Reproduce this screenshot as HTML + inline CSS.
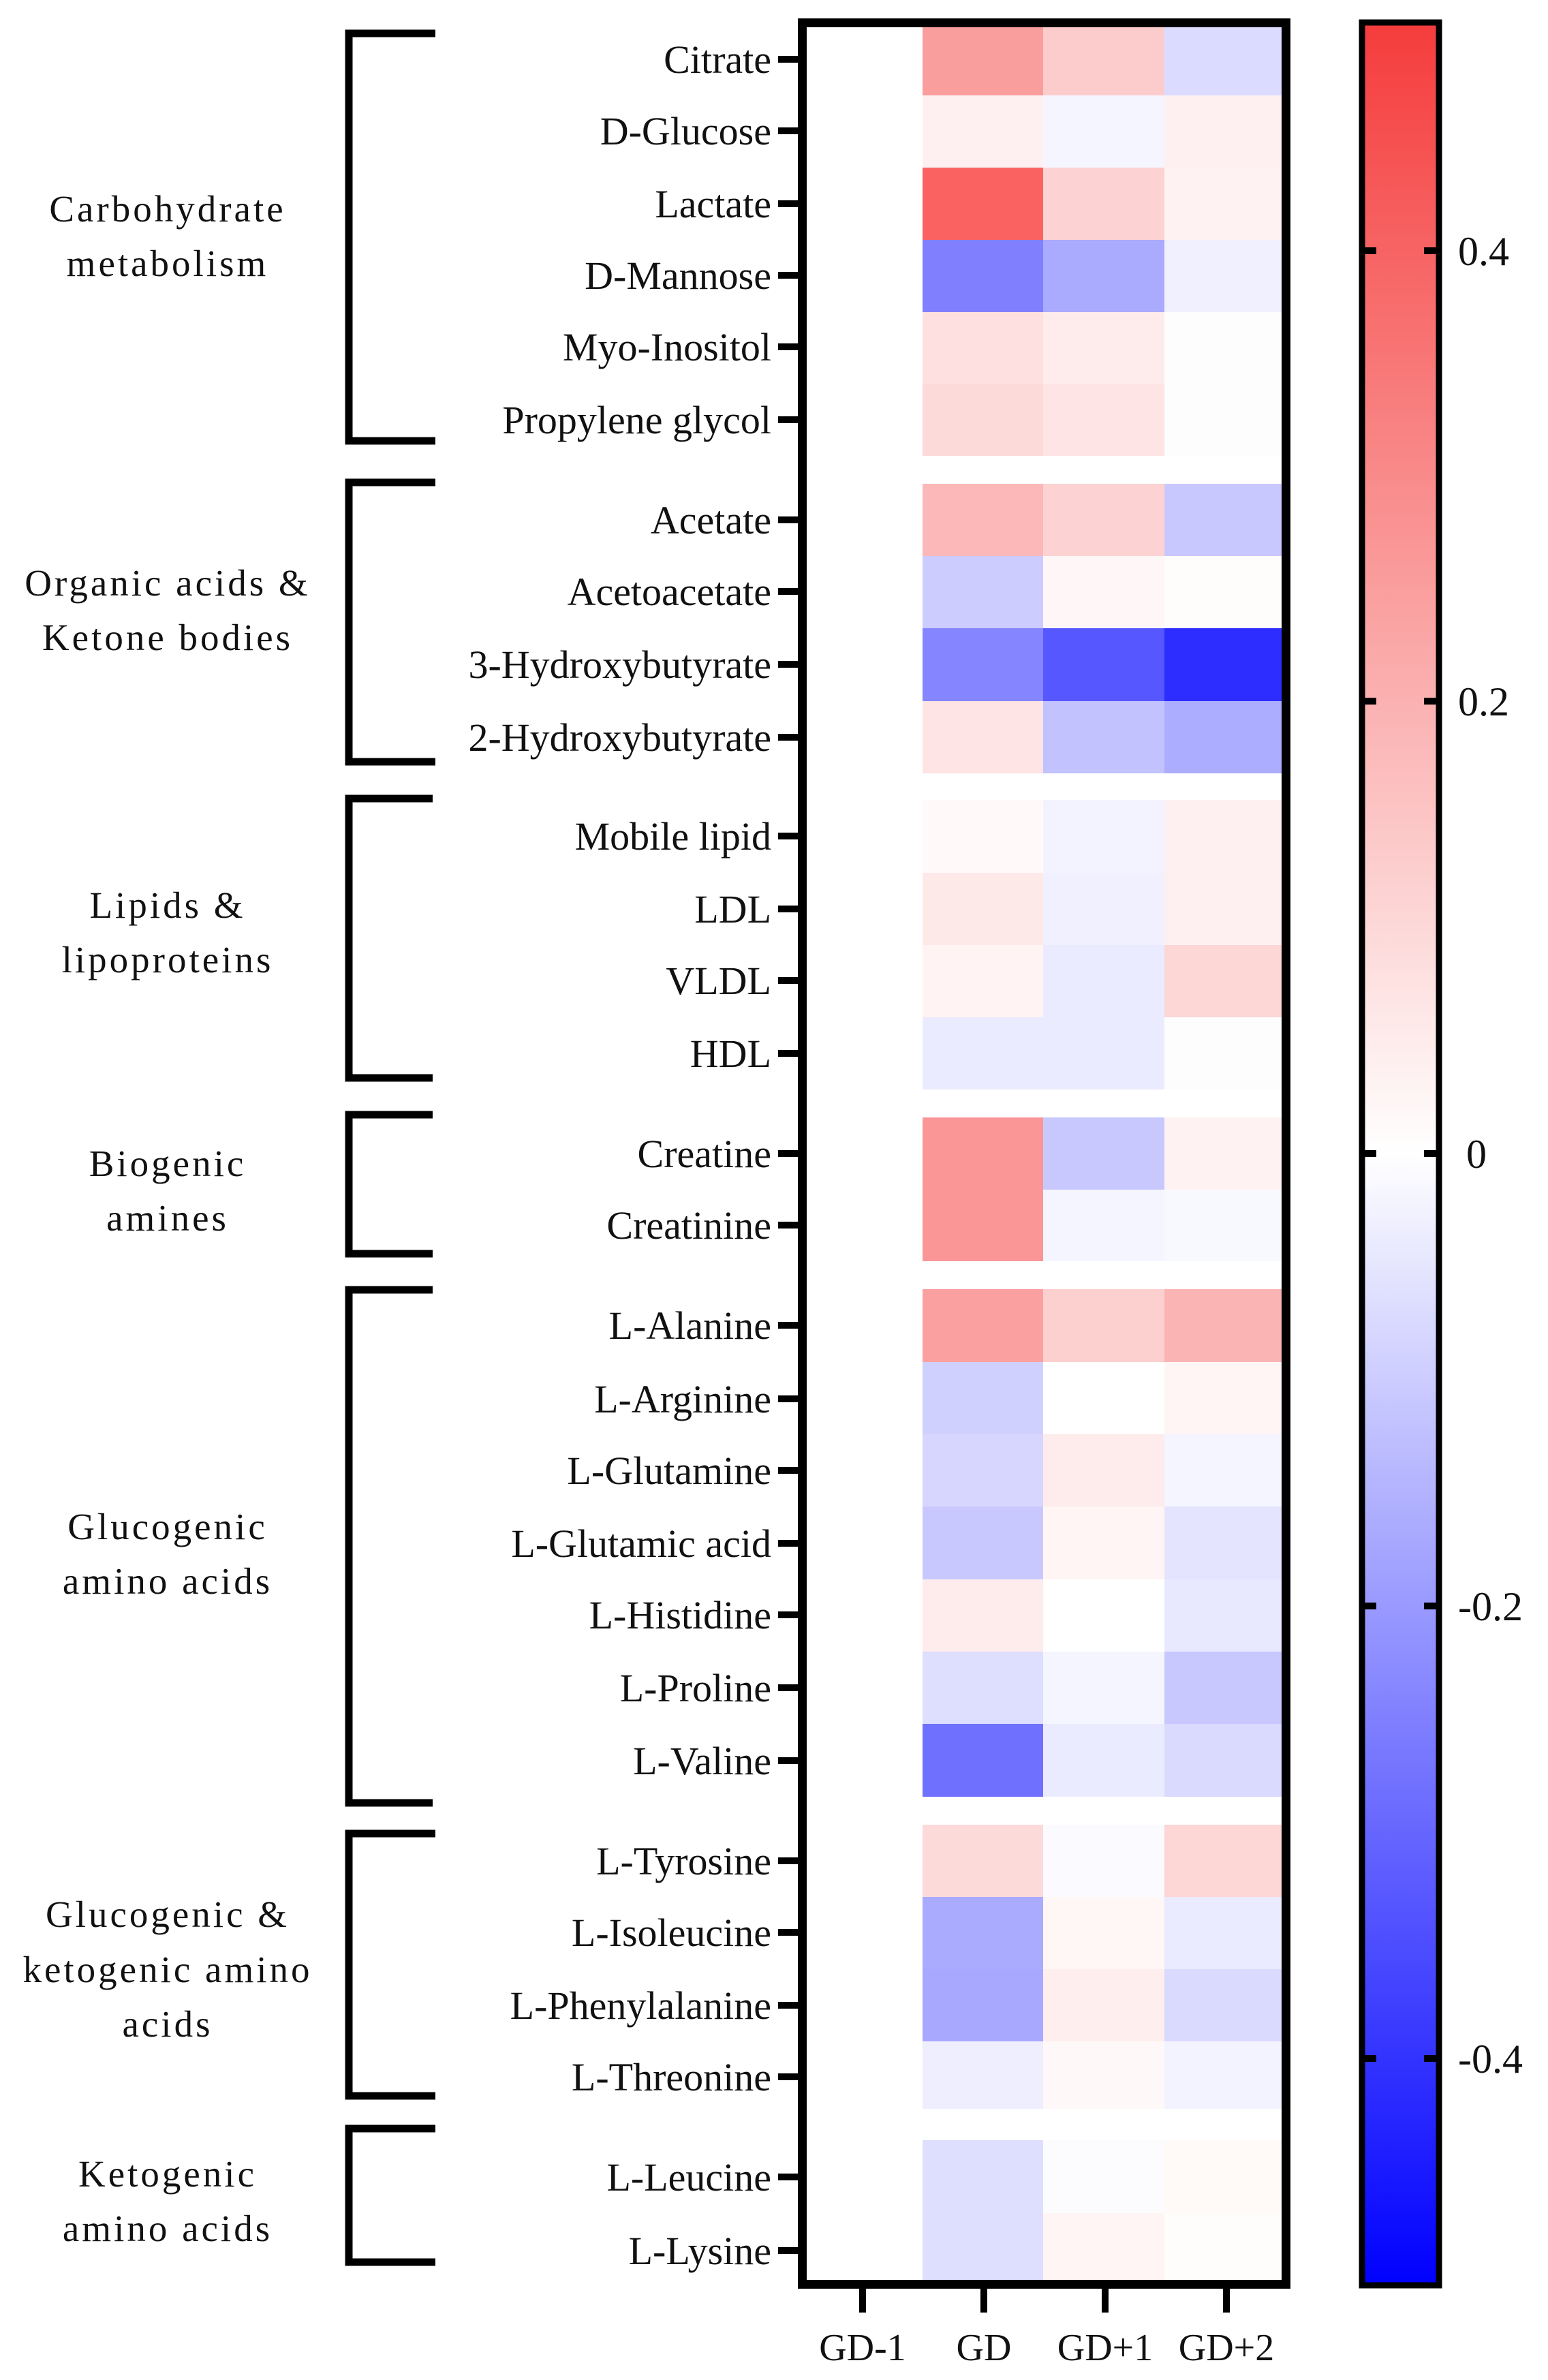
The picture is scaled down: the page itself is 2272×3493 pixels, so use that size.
<!DOCTYPE html>
<html><head><meta charset="utf-8"><style>html,body{margin:0;padding:0;background:#fff}svg{display:block}</style></head>
<body>
<svg xmlns="http://www.w3.org/2000/svg" width="2272" height="3493" viewBox="0 0 2272 3493">
<defs>
<linearGradient id="cb" x1="0" y1="0" x2="0" y2="1">
<stop offset="0" stop-color="rgb(245,60,60)"/>
<stop offset="0.5" stop-color="#ffffff"/>
<stop offset="1" stop-color="rgb(0,0,255)"/>
</linearGradient>
</defs>
<rect width="2272" height="3493" fill="#fff"/>
<g shape-rendering="crispEdges">
<rect x="1354" y="40" width="177" height="100" fill="rgb(250,157,157)"/><rect x="1531" y="40" width="178" height="100" fill="rgb(252,204,204)"/><rect x="1709" y="40" width="173" height="100" fill="rgb(219,219,255)"/>
<rect x="1354" y="140" width="177" height="106" fill="rgb(254,240,240)"/><rect x="1531" y="140" width="178" height="106" fill="rgb(245,245,255)"/><rect x="1709" y="140" width="173" height="106" fill="rgb(254,240,240)"/>
<rect x="1354" y="246" width="177" height="106" fill="rgb(250,98,98)"/><rect x="1531" y="246" width="178" height="106" fill="rgb(253,210,210)"/><rect x="1709" y="246" width="173" height="106" fill="rgb(254,242,242)"/>
<rect x="1354" y="352" width="177" height="106" fill="rgb(128,128,255)"/><rect x="1531" y="352" width="178" height="106" fill="rgb(170,170,255)"/><rect x="1709" y="352" width="173" height="106" fill="rgb(240,240,255)"/>
<rect x="1354" y="458" width="177" height="106" fill="rgb(254,224,224)"/><rect x="1531" y="458" width="178" height="106" fill="rgb(254,236,236)"/><rect x="1709" y="458" width="173" height="106" fill="rgb(253,253,253)"/>
<rect x="1354" y="564" width="177" height="105" fill="rgb(253,218,218)"/><rect x="1531" y="564" width="178" height="105" fill="rgb(254,228,228)"/><rect x="1709" y="564" width="173" height="105" fill="rgb(253,253,253)"/>
<rect x="1354" y="710" width="177" height="106" fill="rgb(252,184,184)"/><rect x="1531" y="710" width="178" height="106" fill="rgb(253,210,210)"/><rect x="1709" y="710" width="173" height="106" fill="rgb(200,200,255)"/>
<rect x="1354" y="816" width="177" height="106" fill="rgb(204,204,255)"/><rect x="1531" y="816" width="178" height="106" fill="rgb(255,247,247)"/><rect x="1709" y="816" width="173" height="106" fill="rgb(255,252,252)"/>
<rect x="1354" y="922" width="177" height="107" fill="rgb(133,133,255)"/><rect x="1531" y="922" width="178" height="107" fill="rgb(87,87,255)"/><rect x="1709" y="922" width="173" height="107" fill="rgb(45,45,255)"/>
<rect x="1354" y="1029" width="177" height="106" fill="rgb(254,228,228)"/><rect x="1531" y="1029" width="178" height="106" fill="rgb(194,194,255)"/><rect x="1709" y="1029" width="173" height="106" fill="rgb(173,173,255)"/>
<rect x="1354" y="1174" width="177" height="107" fill="rgb(255,249,249)"/><rect x="1531" y="1174" width="178" height="107" fill="rgb(243,243,255)"/><rect x="1709" y="1174" width="173" height="107" fill="rgb(254,240,240)"/>
<rect x="1354" y="1281" width="177" height="106" fill="rgb(254,233,233)"/><rect x="1531" y="1281" width="178" height="106" fill="rgb(240,240,255)"/><rect x="1709" y="1281" width="173" height="106" fill="rgb(254,240,240)"/>
<rect x="1354" y="1387" width="177" height="106" fill="rgb(255,243,243)"/><rect x="1531" y="1387" width="178" height="106" fill="rgb(235,235,255)"/><rect x="1709" y="1387" width="173" height="106" fill="rgb(253,214,214)"/>
<rect x="1354" y="1493" width="177" height="106" fill="rgb(235,235,255)"/><rect x="1531" y="1493" width="178" height="106" fill="rgb(235,235,255)"/><rect x="1709" y="1493" width="173" height="106" fill="rgb(253,253,253)"/>
<rect x="1354" y="1640" width="177" height="106" fill="rgb(250,150,150)"/><rect x="1531" y="1640" width="178" height="106" fill="rgb(200,200,255)"/><rect x="1709" y="1640" width="173" height="106" fill="rgb(254,242,242)"/>
<rect x="1354" y="1746" width="177" height="105" fill="rgb(250,150,150)"/><rect x="1531" y="1746" width="178" height="105" fill="rgb(245,245,255)"/><rect x="1709" y="1746" width="173" height="105" fill="rgb(248,248,255)"/>
<rect x="1354" y="1892" width="177" height="107" fill="rgb(250,160,160)"/><rect x="1531" y="1892" width="178" height="107" fill="rgb(253,208,208)"/><rect x="1709" y="1892" width="173" height="107" fill="rgb(251,180,180)"/>
<rect x="1354" y="1999" width="177" height="106" fill="rgb(208,208,255)"/><rect x="1531" y="1999" width="178" height="106" fill="rgb(255,255,255)"/><rect x="1709" y="1999" width="173" height="106" fill="rgb(255,245,245)"/>
<rect x="1354" y="2105" width="177" height="106" fill="rgb(214,214,255)"/><rect x="1531" y="2105" width="178" height="106" fill="rgb(254,235,235)"/><rect x="1709" y="2105" width="173" height="106" fill="rgb(245,245,255)"/>
<rect x="1354" y="2211" width="177" height="107" fill="rgb(200,200,255)"/><rect x="1531" y="2211" width="178" height="107" fill="rgb(255,245,245)"/><rect x="1709" y="2211" width="173" height="107" fill="rgb(228,228,255)"/>
<rect x="1354" y="2318" width="177" height="106" fill="rgb(254,235,235)"/><rect x="1531" y="2318" width="178" height="106" fill="rgb(255,255,255)"/><rect x="1709" y="2318" width="173" height="106" fill="rgb(232,232,255)"/>
<rect x="1354" y="2424" width="177" height="106" fill="rgb(222,222,255)"/><rect x="1531" y="2424" width="178" height="106" fill="rgb(245,245,255)"/><rect x="1709" y="2424" width="173" height="106" fill="rgb(200,200,255)"/>
<rect x="1354" y="2530" width="177" height="107" fill="rgb(112,112,255)"/><rect x="1531" y="2530" width="178" height="107" fill="rgb(235,235,255)"/><rect x="1709" y="2530" width="173" height="107" fill="rgb(218,218,255)"/>
<rect x="1354" y="2678" width="177" height="106" fill="rgb(253,218,218)"/><rect x="1531" y="2678" width="178" height="106" fill="rgb(250,250,255)"/><rect x="1709" y="2678" width="173" height="106" fill="rgb(253,214,214)"/>
<rect x="1354" y="2784" width="177" height="106" fill="rgb(170,170,255)"/><rect x="1531" y="2784" width="178" height="106" fill="rgb(255,246,246)"/><rect x="1709" y="2784" width="173" height="106" fill="rgb(235,235,255)"/>
<rect x="1354" y="2890" width="177" height="106" fill="rgb(168,168,255)"/><rect x="1531" y="2890" width="178" height="106" fill="rgb(254,238,238)"/><rect x="1709" y="2890" width="173" height="106" fill="rgb(218,218,255)"/>
<rect x="1354" y="2996" width="177" height="99" fill="rgb(238,238,255)"/><rect x="1531" y="2996" width="178" height="99" fill="rgb(255,248,248)"/><rect x="1709" y="2996" width="173" height="99" fill="rgb(243,243,255)"/>
<rect x="1354" y="3141" width="177" height="107" fill="rgb(222,222,255)"/><rect x="1531" y="3141" width="178" height="107" fill="rgb(252,252,255)"/><rect x="1709" y="3141" width="173" height="107" fill="rgb(255,249,248)"/>
<rect x="1354" y="3248" width="177" height="100" fill="rgb(222,222,255)"/><rect x="1531" y="3248" width="178" height="100" fill="rgb(255,245,245)"/><rect x="1709" y="3248" width="173" height="100" fill="rgb(255,252,252)"/>
</g>
<rect x="1177.5" y="33.5" width="710" height="3319" fill="none" stroke="#000" stroke-width="13"/>
<g stroke="#000" stroke-width="10">
<line x1="1142" y1="87" x2="1175" y2="87"/><line x1="1142" y1="192" x2="1175" y2="192"/><line x1="1142" y1="299" x2="1175" y2="299"/><line x1="1142" y1="404" x2="1175" y2="404"/><line x1="1142" y1="509" x2="1175" y2="509"/><line x1="1142" y1="616" x2="1175" y2="616"/>
<line x1="1142" y1="763" x2="1175" y2="763"/><line x1="1142" y1="868" x2="1175" y2="868"/><line x1="1142" y1="975" x2="1175" y2="975"/><line x1="1142" y1="1082" x2="1175" y2="1082"/>
<line x1="1142" y1="1227" x2="1175" y2="1227"/><line x1="1142" y1="1334" x2="1175" y2="1334"/><line x1="1142" y1="1439" x2="1175" y2="1439"/><line x1="1142" y1="1546" x2="1175" y2="1546"/>
<line x1="1142" y1="1693" x2="1175" y2="1693"/><line x1="1142" y1="1798" x2="1175" y2="1798"/>
<line x1="1142" y1="1945" x2="1175" y2="1945"/><line x1="1142" y1="2053" x2="1175" y2="2053"/><line x1="1142" y1="2158" x2="1175" y2="2158"/><line x1="1142" y1="2265" x2="1175" y2="2265"/><line x1="1142" y1="2370" x2="1175" y2="2370"/><line x1="1142" y1="2477" x2="1175" y2="2477"/><line x1="1142" y1="2584" x2="1175" y2="2584"/>
<line x1="1142" y1="2731" x2="1175" y2="2731"/><line x1="1142" y1="2836" x2="1175" y2="2836"/><line x1="1142" y1="2943" x2="1175" y2="2943"/><line x1="1142" y1="3048" x2="1175" y2="3048"/>
<line x1="1142" y1="3195" x2="1175" y2="3195"/><line x1="1142" y1="3303" x2="1175" y2="3303"/>
<line x1="1266" y1="3355" x2="1266" y2="3394"/><line x1="1444" y1="3355" x2="1444" y2="3394"/><line x1="1622" y1="3355" x2="1622" y2="3394"/><line x1="1800" y1="3355" x2="1800" y2="3394"/>
</g>
<g fill="none" stroke="#000" stroke-width="11">
<polyline points="639,49 512,49 512,647 639,647"/>
<polyline points="639,708 512,708 512,1118 639,1118"/>
<polyline points="635,1172 512,1172 512,1582 635,1582"/>
<polyline points="635,1636 512,1636 512,1840 635,1840"/>
<polyline points="635,1893 512,1893 512,2646 635,2646"/>
<polyline points="639,2691 512,2691 512,3076 639,3076"/>
<polyline points="639,3124 512,3124 512,3320 639,3320"/>
</g>
<g font-family="Liberation Serif, serif" font-size="58" text-anchor="end" fill="#111">
<text x="1132" y="107">Citrate</text><text x="1132" y="212">D-Glucose</text><text x="1132" y="319">Lactate</text><text x="1132" y="424">D-Mannose</text><text x="1132" y="529">Myo-Inositol</text><text x="1132" y="636">Propylene glycol</text>
<text x="1132" y="783">Acetate</text><text x="1132" y="888">Acetoacetate</text><text x="1132" y="995">3-Hydroxybutyrate</text><text x="1132" y="1102">2-Hydroxybutyrate</text>
<text x="1132" y="1247">Mobile lipid</text><text x="1132" y="1354">LDL</text><text x="1132" y="1459">VLDL</text><text x="1132" y="1566">HDL</text>
<text x="1132" y="1713">Creatine</text><text x="1132" y="1818">Creatinine</text>
<text x="1132" y="1965">L-Alanine</text><text x="1132" y="2073">L-Arginine</text><text x="1132" y="2178">L-Glutamine</text><text x="1132" y="2285">L-Glutamic acid</text><text x="1132" y="2390">L-Histidine</text><text x="1132" y="2497">L-Proline</text><text x="1132" y="2604">L-Valine</text>
<text x="1132" y="2751">L-Tyrosine</text><text x="1132" y="2856">L-Isoleucine</text><text x="1132" y="2963">L-Phenylalanine</text><text x="1132" y="3068">L-Threonine</text>
<text x="1132" y="3215">L-Leucine</text><text x="1132" y="3323">L-Lysine</text>
</g>
<g font-family="Liberation Serif, serif" font-size="55" text-anchor="middle" fill="#111" letter-spacing="4">
<text x="246" y="325">Carbohydrate</text><text x="246" y="405">metabolism</text>
<text x="246" y="874">Organic acids &amp;</text><text x="246" y="954">Ketone bodies</text>
<text x="246" y="1347">Lipids &amp;</text><text x="246" y="1427">lipoproteins</text>
<text x="246" y="1726">Biogenic</text><text x="246" y="1806">amines</text>
<text x="246" y="2259">Glucogenic</text><text x="246" y="2339">amino acids</text>
<text x="246" y="2828">Glucogenic &amp;</text><text x="246" y="2909">ketogenic amino</text><text x="246" y="2989">acids</text>
<text x="246" y="3209">Ketogenic</text><text x="246" y="3289">amino acids</text>
</g>
<g font-family="Liberation Serif, serif" font-size="56" text-anchor="middle" fill="#111">
<text x="1266" y="3464">GD-1</text><text x="1444" y="3464">GD</text><text x="1622" y="3464">GD+1</text><text x="1800" y="3464">GD+2</text>
</g>
<rect x="1999" y="33" width="113" height="3321" fill="url(#cb)" stroke="#000" stroke-width="9"/>
<g stroke="#000" stroke-width="10">
<line x1="2003" y1="368" x2="2020" y2="368"/><line x1="2090" y1="368" x2="2108" y2="368"/>
<line x1="2003" y1="1029" x2="2020" y2="1029"/><line x1="2090" y1="1029" x2="2108" y2="1029"/>
<line x1="2003" y1="1693" x2="2020" y2="1693"/><line x1="2090" y1="1693" x2="2108" y2="1693"/>
<line x1="2003" y1="2357" x2="2020" y2="2357"/><line x1="2090" y1="2357" x2="2108" y2="2357"/>
<line x1="2003" y1="3021" x2="2020" y2="3021"/><line x1="2090" y1="3021" x2="2108" y2="3021"/>
</g>
<g font-family="Liberation Serif, serif" font-size="60" fill="#111">
<text x="2140" y="389">0.4</text><text x="2140" y="1050">0.2</text><text x="2152" y="1714">0</text><text x="2140" y="2378">-0.2</text><text x="2140" y="3042">-0.4</text>
</g>
</svg>
</body></html>
